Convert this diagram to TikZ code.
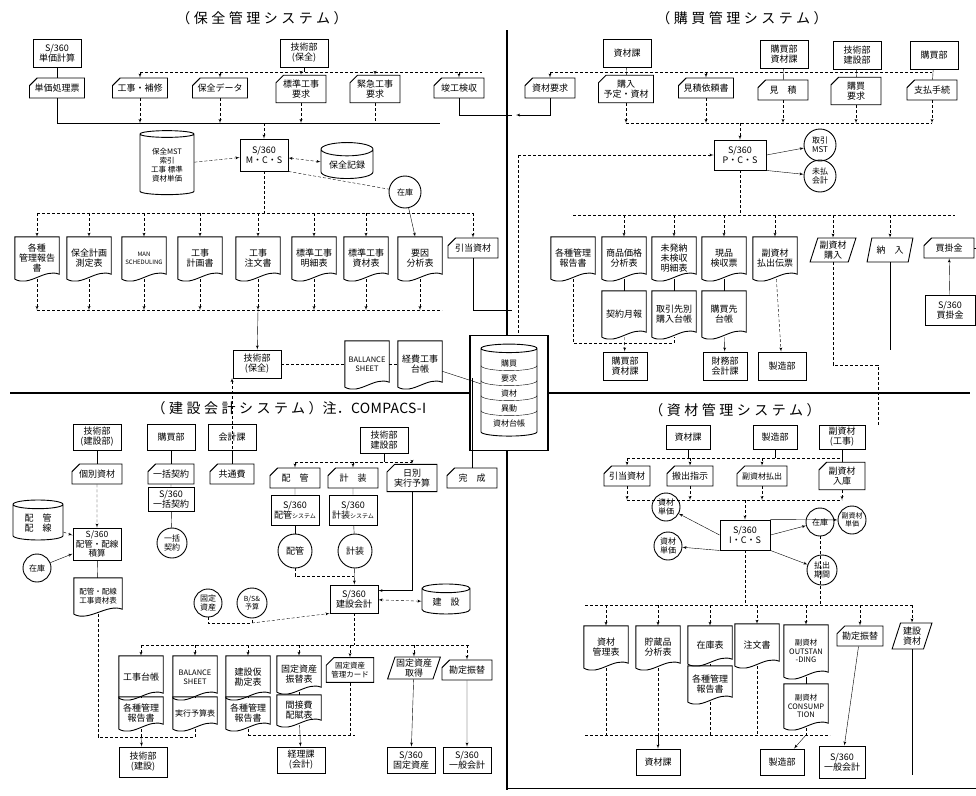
\documentclass[tikz,border=0pt]{standalone}
\usepackage{fontspec}
\setmainfont{Noto Sans CJK JP}
\newfontfamily\titlefont[LetterSpace=25]{Noto Sans CJK JP}
\usetikzlibrary{shapes,arrows,positioning,calc}

\tikzset{
  base/.style={draw, line width=0.9pt, align=center, inner sep=1pt, font=\fontsize{9}{10}\selectfont},
  proc/.style={base, rectangle, minimum width=48pt, minimum height=28pt},
  card/.style={base, chamfered rectangle, chamfered rectangle corners=north west, chamfered rectangle xsep=4pt, minimum width=50pt, minimum height=20pt},
  para/.style={base, trapezium, trapezium left angle=70, trapezium right angle=110, trapezium stretches=true, minimum width=46pt, minimum height=24pt},
  disc/.style={base, circle, minimum size=32pt, inner sep=0pt, font=\fontsize{8}{9}\selectfont},
  drum/.style={base, cylinder, shape border rotate=90, aspect=0.3},
  docbox/.style={align=center, inner sep=1pt, minimum width=44pt, minimum height=42pt, font=\fontsize{9}{10}\selectfont},
  flow/.style={densely dashed, thin},
  link/.style={thin},
  divider/.style={line width=1.6pt},
  title/.style={font=\titlefont\fontsize{14}{16}\selectfont}
}

% document symbol with wavy bottom
\newcommand{\docu}[4][]{%
  \node[docbox,#1] (#2) at (#3) {#4};
  \draw[line width=0.9pt] (#2.south west) -- (#2.north west) -- (#2.north east) -- ($(#2.south east)+(0,5pt)$)
    .. controls ($(#2.south east)+(-15pt,11pt)$) and ($(#2.south west)+(15pt,-8pt)$) .. (#2.south west);
}
\newcommand{\smallkana}[1]{{\fontsize{6}{7}\selectfont #1}}

\begin{document}
\begin{tikzpicture}[x=1pt, y=-1pt, >=latex']
\useasboundingbox (0,0) rectangle (976,795);

% ---- dividers and central file
\node[draw, line width=1.6pt, minimum width=78pt, minimum height=115pt] (cbox) at (509,393) {};
\node[drum, minimum width=56pt, minimum height=92pt, aspect=0.25, font=\fontsize{8}{15}\selectfont] (dbase) at (509,393) {購買\\要求\\資材\\異動\\資材台帳};
\foreach \dy in {22,37,52,67}
  \draw[thin] ($(dbase.north)+(-28pt,-\dy pt)$) arc[start angle=180, end angle=360, x radius=28pt, y radius=5pt];
\coordinate (dvT) at (507,30);
\coordinate (dvB) at (507,790);
\coordinate (dvL) at (10,393);
\coordinate (dvR) at (970,393);
\draw[divider] (dvT) -- (dvT |- cbox.north);
\draw[divider] (dvB |- cbox.south) -- (dvB);
\draw[divider] (dvL) -- (cbox.west |- dvL);
\draw[divider] (cbox.east |- dvR) -- (dvR);

% ---- titles
\node[title] (tTL) at (262,18) {（保全管理システム）};
\node[title] (tTR) at (742,18) {（購買管理システム）};
\node[title, anchor=west] (tBL) at (148,408) {（建設会計システム）{\addfontfeatures{LetterSpace=2}注．COMPACS-I}};
\node[title] (tBR) at (735,410) {（資材管理システム）};

% =========== 保全管理
\node[proc] (tanka) at (57,53) {S/360\\単価計算};
\node[proc] (hoTop) at (304,53) {技術部\\(保全)};
\node[card] (c1) at (57,88) {単価処理票};
\node[card] (c2) at (140,88) {工事・補修};
\node[card] (c3) at (220,88) {保全データ};
\node[card] (c4) at (301,89) {標準工事\\要求};
\node[card] (c5) at (375,89) {緊急工事\\要求};
\node[card] (c6) at (459,88) {竣工検収};
\node[drum, minimum width=54pt, minimum height=64pt, aspect=0.2, font=\fontsize{7.5}{9}\selectfont] (mst) at (167,165) {保全MST\\索引\\工事 標準\\資材単価};
\node[proc, minimum height=32pt] (mcs) at (264,155) {S/360\\M・C・S};
\node[drum, minimum width=52pt, minimum height=36pt, aspect=0.35] (kiroku) at (347,165) {保全記録};
\node[disc] (zaiko) at (405,192) {在庫};

\docu{d1}{37,258}{各種\\管理報告\\書}
\docu{d2}{89,258}{保全計画\\測定表}
\docu[font=\fontsize{6}{8}\selectfont]{d3}{144,258}{MAN\\SCHEDULING}
\docu{d4}{200,258}{工事\\計画書}
\docu{d5}{258,258}{工事\\注文書}
\docu{d6}{314,258}{標準工事\\明細表}
\docu{d7}{366,258}{標準工事\\資材表}
\docu{d8}{420,258}{要因\\分析表}
\node[card] (hikiate) at (473,248) {引当資材};
\node[proc] (hoBot) at (257,364) {技術部\\(保全)};
\docu[font=\fontsize{7.5}{9}\selectfont, minimum height=46pt]{bs1}{367,364}{BALLANCE\\SHEET}
\docu[minimum height=46pt]{keihi}{420,364}{経費工事\\台帳}

\coordinate (tlT1) at (140,72);
\coordinate (tlT2) at (482,72);
\coordinate (tlB1) at (57,123);
\coordinate (tlB2) at (440,123);
\coordinate (tlR) at (512,115);
\draw[link] (tanka) -- (c1);
\draw[flow] (tlT1) -- (tlT2);
\draw[link] (hoTop) -- (hoTop |- tlT1);
\foreach \c in {c2,c3,c4,c5,c6} \draw[flow,->] (\c |- tlT1) -- (\c);
\draw[link] (c1) |- (tlB2);
\foreach \c in {c2,c3,c4} \draw[flow,->] (\c) -- (\c |- tlB1);
\draw[flow] (c5) -- (c5 |- tlB1);
\draw[link] (c6) |- (tlR);
\draw[flow,->] (mcs |- tlB1) -- (mcs);
\draw[flow,->] (mst) -- (mcs);
\draw[flow,<->] (mcs) -- (kiroku);
\draw[flow] (mcs.south east) -- (zaiko);

\coordinate (tlD1) at (37,213);
\coordinate (tlD2) at (473,213);
\coordinate (tlE1) at (37,310);
\coordinate (tlE2) at (442,310);
\coordinate (tlR2) at (512,310);
\draw[flow] (tlD1) -- (tlD2);
\draw[flow] (mcs) -- (mcs |- tlD1);
\foreach \d in {d1,d2,d3,d4,d5,d6,d7,hikiate} \draw[flow,->] (\d |- tlD1) -- (\d);
\draw[link,->] (zaiko) -- (d8);
\draw[flow] (tlE1) -- (tlE2);
\foreach \d in {d1,d2,d3,d4,d5,d6,d7,d8} \draw[flow,->] (\d) -- (\d |- tlE1);
\draw[link,->] (d5 |- tlE1) -- (hoBot);
\draw[link] (hikiate) |- (tlR2);
\draw[flow] (hoBot) -- (bs1);
\draw[flow] (bs1) -- (keihi);
\draw[link] (keihi) -- (dbase);

% =========== 購買管理
\node[proc] (shizaika) at (627,53) {資材課};
\node[proc] (kobu1) at (784,54) {購買部\\資材課};
\node[proc] (gibu) at (857,55) {技術部\\建設部};
\node[proc] (kobu2) at (934,55) {購買部};
\node[card] (k1) at (550,88) {資材要求};
\node[card] (k2) at (626,89) {購入\\予定・資材};
\node[card] (k3) at (706,88) {見積依頼書};
\node[card] (k4) at (783,90) {見　積};
\node[card] (k5) at (856,91) {購買\\要求};
\node[card] (k6) at (932,90) {支払手続};
\node[proc, minimum width=52pt, minimum height=30pt] (pcs) at (740,155) {S/360\\P・C・S};
\node[disc] (torihiki) at (820,145) {取引\\MST};
\node[disc] (mibarai) at (820,176) {未払\\会計};

\coordinate (trT1) at (550,72);
\coordinate (trT2) at (932,72);
\coordinate (trB1) at (626,123);
\coordinate (trB2) at (932,123);
\coordinate (trL) at (516,115);
\coordinate (trP) at (518,155);
\draw[link] (shizaika) -- (k2);
\draw[link] (kobu1) -- (k4);
\draw[link] (gibu) -- (k5);
\draw[link] (kobu2) -- (k6);
\draw[flow] (trT1) -- (trT2);
\draw[flow,->] (k1 |- trT1) -- (k1);
\draw[flow,->] (k3 |- trT1) -- (k3);
\draw[link,->] (k1) |- (trL);
\draw[flow] (trB1) -- (trB2);
\foreach \k in {k2,k3,k4,k5,k6} \draw[flow,->] (\k) -- (\k |- trB1);
\draw[flow,->] (pcs |- trB1) -- (pcs);
\draw[flow,->] (trP) -- (pcs);
\draw[flow] (trP) -- (trP |- cbox.north);
\draw[link,->] (pcs.east) -- (torihiki);
\draw[link,->] (pcs.south east) -- (mibarai);

\docu{e1}{573,258}{各種管理\\報告書}
\docu{e2}{624,258}{商品価格\\分析表}
\docu{e3}{674,258}{未発納\\未検収\\明細表}
\docu{e4}{724,258}{現品\\検収票}
\docu{e5}{775,258}{副資材\\払出伝票}
\node[para] (p1) at (833,250) {副資材\\購入};
\node[para] (p2) at (890,250) {納　入};
\node[card] (kaikake) at (949,248) {買掛金};
\node[proc, minimum width=50pt, minimum height=30pt] (kai360) at (950,310) {S/360\\買掛金};
\docu[minimum height=46pt]{e6}{624,314}{契約月報}
\docu[minimum height=46pt]{e7}{674,314}{取引先別\\購入台帳}
\docu[minimum height=46pt]{e8}{724,314}{購買先\\台帳}
\node[proc, minimum width=44pt] (kobuBot) at (625,366) {購買部\\資材課};
\node[proc, minimum width=44pt] (zaimu) at (725,366) {財務部\\会計課};
\node[proc] (seizo1) at (782,366) {製造部};

\coordinate (trD1) at (573,215);
\coordinate (trD2) at (955,215);
\coordinate (trQ) at (573,343);
\coordinate (trS) at (878,365);
\draw[flow] (trD1) -- (trD2);
\draw[flow] (pcs) -- (pcs |- trD1);
\foreach \e in {e2,e3,e4,e5,p1,p2} \draw[flow,->] (\e |- trD1) -- (\e);
\draw[link,->] (kai360) -- (kaikake);
\draw[link] (e2) -- (e6);
\draw[link] (e3) -- (e7);
\draw[link] (e4) -- (e8);
\draw[flow] (e1) |- (e7 |- trQ) -- (e7);
\draw[flow,->] (e6) -- (kobuBot);
\draw[link,->] (e8) -- (zaimu);
\draw[flow,->] (e5) -- (seizo1);
\draw[flow] (p1) |- (trS) -- ++(0,60);
\draw[link] (p2) -- ++(0,100);
\draw[link] (kaikake.east) -| ++(20,540) -| (dvB |- 0,785);

% =========== 建設会計
\node[proc, minimum height=26pt] (kg1) at (97,437) {技術部\\(建設部)};
\node[proc, minimum height=26pt] (kobu3) at (171,437) {購買部};
\node[proc, minimum height=26pt] (kaikei) at (232,437) {会計課};
\node[proc, minimum height=26pt] (kg2) at (384,440) {技術部\\建設部};
\node[card] (kobetsu) at (97,474) {個別資材};
\node[card, minimum width=46pt] (ikkatsu) at (171,474) {一括契約};
\node[card, minimum width=44pt] (kyotsu) at (232,474) {共通費};
\node[card] (haikan) at (295,478) {配　管};
\node[card] (keiso) at (353,478) {計　装};
\node[card] (nichi) at (412,478) {日別\\実行予算};
\node[card] (kansei) at (472,478) {完　成};
\node[proc, minimum width=46pt, minimum height=24pt] (ik360) at (171,499) {S/360\\一括契約};
\node[proc, minimum height=30pt] (hk360) at (295,510) {S/360\\配管\smallkana{システム}};
\node[proc, minimum height=30pt] (ks360) at (353,510) {S/360\\計装\smallkana{システム}};
\node[proc, minimum height=32pt, font=\fontsize{8.5}{9.5}\selectfont] (sekisan) at (97,544) {S/360\\配管・配線\\積算};
\node[drum, minimum width=50pt, minimum height=40pt, aspect=0.3] (haisen) at (38,523) {配　管\\配　線};
\node[disc, minimum size=28pt] (zaiko2) at (37,568) {在庫};
\node[disc, minimum size=30pt] (ikC) at (172,543) {一括\\契約};
\node[disc, minimum size=34pt, font=\fontsize{9}{10}\selectfont] (haikanC) at (295,551) {配管};
\node[disc, minimum size=34pt, font=\fontsize{9}{10}\selectfont] (keisoC) at (355,551) {計装};
\docu[minimum width=48pt, minimum height=36pt, font=\fontsize{7.5}{8.5}\selectfont]{shizaihyo}{98,596}{配管・配線\\工事資材表}
\node[disc, minimum size=28pt] (kotei) at (208,603) {固定\\資産};
\node[disc, minimum size=30pt, font=\fontsize{7}{8}\selectfont] (bsC) at (252,603) {B/S\&\\予算};
\node[proc] (k360) at (354,599) {S/360\\建設会計};
\node[drum, minimum width=48pt, minimum height=30pt, aspect=0.3] (kensetsu) at (446,602) {建　設};

\coordinate (blT1) at (295,462);
\coordinate (blT2) at (412,462);
\coordinate (blC) at (208,623);
\coordinate (blJ) at (354,576);
\draw[link] (kg1) -- (kobetsu);
\draw[flow,->] (kobetsu) -- (sekisan);
\draw[link] (kobu3) -- (ikkatsu);
\draw[link] (ikkatsu) -- (ik360);
\draw[link] (ik360) -- (ikC);
\draw[link] (kaikei) -- (kyotsu);
\draw[flow,->] (kyotsu) -- ++(0,-96);
\draw[flow,->] (haisen) -- (sekisan);
\draw[link,->] (zaiko2) -- (sekisan);
\draw[link] (sekisan) -- (shizaihyo);
\draw[link] (kg2) -- (kg2 |- blT1);
\draw[flow] (blT1) -- (blT2);
\foreach \c in {haikan,keiso,nichi} \draw[flow,->] (\c |- blT1) -- (\c);
\draw[link] (haikan) -- (hk360);
\draw[link] (keiso) -- (ks360);
\draw[link] (hk360) -- (haikanC);
\draw[link] (ks360) -- (keisoC);
\draw[flow] (haikanC) |- (blJ);
\draw[link,->] (keisoC) -- (k360);
\draw[link,->] (nichi) |- ($(k360.north east)+(0,-6pt)$);
\draw[link] (kansei) -- ++(0,-100);
\draw[flow,<->] (k360) -- (kensetsu);
\draw[flow] (kotei) -- (blC) -- (bsC |- blC) -- (bsC);
\draw[flow,->] (bsC |- blC) -- (k360.south west);

\docu{f1}{141,677}{工事台帳}
\docu[font=\fontsize{7.5}{9}\selectfont]{f2}{195,677}{BALANCE\\SHEET}
\docu{f3}{248,677}{建設仮\\勘定表}
\docu[minimum height=36pt]{f4}{299,674}{固定資産\\振替表}
\node[card, minimum width=46pt, font=\fontsize{7.5}{8.5}\selectfont] (f5) at (350,670) {固定資産\\管理カード};
\node[para, minimum width=44pt, minimum height=22pt] (f6) at (414,668) {固定資産\\取得};
\node[card] (f7) at (467,670) {勘定振替};
\docu[minimum height=32pt]{g1}{141,713}{各種管理\\報告書}
\docu[minimum height=32pt, font=\fontsize{8}{9}\selectfont]{g2}{195,713}{実行予算表}
\docu[minimum height=32pt]{g3}{248,713}{各種管理\\報告書}
\docu[minimum height=30pt]{g4}{299,710}{間接費\\配賦表}
\node[proc, minimum height=30pt] (gkBot) at (143,762) {技術部\\(建設)};
\node[proc, minimum height=26pt] (keiri) at (301,760) {経理課\\(会計)};
\node[proc, minimum height=26pt] (kt360) at (411,760) {S/360\\固定資産};
\node[proc, minimum height=26pt] (ip360) at (467,760) {S/360\\一般会計};

\coordinate (blBus1) at (141,645);
\coordinate (blBus2) at (470,645);
\coordinate (blL1) at (98,737);
\coordinate (blL2) at (195,737);
\coordinate (blM1) at (248,735);
\coordinate (blM2) at (355,735);
\draw[flow] (blBus1) -- (blBus2);
\draw[flow] (k360) -- (k360 |- blBus1);
\foreach \f in {f1,f2,f3,f4,f5,f6,f7} \draw[flow,->] (\f |- blBus1) -- (\f);
\draw[link] (f1) -- (g1);
\draw[link] (f2) -- (g2);
\draw[link] (f3) -- (g3);
\draw[link] (f4) -- (g4);
\draw[flow] (shizaihyo) |- (blL2);
\draw[flow] (g2) -- (g2 |- blL2);
\draw[flow] (g1) -- (g1 |- blL1);
\draw[link,->] (g1 |- blL1) -- (gkBot);
\draw[flow] (blM1) -- (blM2);
\draw[flow] (g3) -- (g3 |- blM1);
\draw[flow] (f5) -- (f5 |- blM1);
\draw[link,->] (g4) -- (keiri);
\draw[link,->] (f6) -- (kt360);
\draw[link,->] (f7) -- (ip360);

% =========== 資材管理
\node[proc, minimum width=44pt, minimum height=24pt] (br1) at (688,437) {資材課};
\node[proc, minimum width=44pt, minimum height=24pt] (br2) at (775,437) {製造部};
\node[proc, minimum width=46pt, minimum height=24pt] (br3) at (842,437) {副資材\\(工事)};
\node[card, minimum width=46pt] (bk1) at (627,476) {引当資材};
\node[card, minimum width=46pt] (bk2) at (690,476) {搬出指示};
\node[card, minimum width=50pt, font=\fontsize{8}{9}\selectfont] (bk3) at (762,476) {副資材払出};
\node[card, minimum width=46pt, minimum height=22pt] (bk4) at (842,476) {副資材\\入庫};
\node[disc, minimum size=28pt] (bc1) at (666,507) {資材\\単価};
\node[disc, minimum size=28pt] (bc2) at (668,546) {資材\\単価};
\node[proc, minimum width=50pt, minimum height=30pt] (ics) at (745,535) {S/360\\I・C・S};
\node[disc, minimum size=28pt] (bc3) at (820,522) {在庫};
\node[disc, minimum size=28pt, font=\fontsize{7}{8}\selectfont] (bc4) at (852,520) {副資材\\単価};
\node[disc, minimum size=30pt] (bc5) at (822,570) {払出\\期間};
\docu{h1}{606,647}{資材\\管理表}
\docu{h2}{658,647}{貯蔵品\\分析表}
\docu[minimum height=38pt]{h3}{710,645}{在庫表}
\docu[minimum height=36pt]{h4}{710,684}{各種管理\\報告書}
\docu{h5}{757,645}{注文書}
\docu[minimum height=52pt, font=\fontsize{7.5}{8.5}\selectfont]{h6}{806,651}{副資材\\OUTSTAN\\-DING}
\docu[minimum height=44pt, font=\fontsize{7.5}{8.5}\selectfont]{h7}{806,706}{副資材\\CONSUMP\\TION}
\node[card, minimum width=46pt] (h8) at (860,636) {勘定振替};
\node[para, minimum width=40pt, minimum height=26pt] (h9) at (912,636) {建設\\資材};
\node[proc, minimum width=44pt, minimum height=26pt] (bb1) at (658,762) {資材課};
\node[proc, minimum width=44pt, minimum height=26pt] (bb2) at (782,762) {製造部};
\node[proc, minimum width=46pt, minimum height=32pt] (bb3) at (842,762) {S/360\\一般会計};

\coordinate (brT1) at (627,458);
\coordinate (brT2) at (842,458);
\coordinate (brU1) at (627,500);
\coordinate (brU2) at (842,500);
\coordinate (brV1) at (585,605);
\coordinate (brV2) at (912,605);
\coordinate (brW1) at (585,735);
\coordinate (brW2) at (830,735);
\draw[flow] (brT1) -- (brT2);
\foreach \b in {br1,br2,br3} \draw[link] (\b) -- (\b |- brT1);
\foreach \b in {bk1,bk2,bk3} \draw[flow,->] (\b |- brT1) -- (\b);
\draw[link] (br3) -- (bk4);
\draw[flow] (brU1) -- (brU2);
\foreach \b in {bk1,bk2,bk3,bk4} \draw[flow,->] (\b) -- (\b |- brU1);
\draw[flow,->] (ics |- brU1) -- (ics);
\draw[link,->] (ics.west) -- (bc1);
\draw[link,->] (ics.south west) -- (bc2);
\draw[link,->] (ics.east) -- (bc3);
\draw[link,->] (ics.north east) -- (bc4);
\draw[link,->] (ics.south east) -- (bc5);
\draw[flow] (brV1) -- (brV2);
\draw[flow] (ics) -- (ics |- brV1);
\foreach \h in {h1,h2,h3,h5,h6,h8,h9} \draw[flow,->] (\h |- brV1) -- (\h);
\draw[link] (h3) -- (h4);
\draw[link] (h6) -- (h7);
\draw[flow] (brW1) -- (brW2);
\foreach \h in {h1,h2,h4,h5,h7} \draw[flow] (\h) -- (\h |- brW1);
\draw[link,->] (h2 |- brW1) -- (bb1);
\draw[link,->] (h7 |- brW1) -- (bb2);
\draw[link,->] (h8) -- (bb3);
\draw[link] (h9) -- (h9 |- 0,775);
\draw[flow] (bc3) -- (bc3 |- brV1);
\end{tikzpicture}
\end{document}
